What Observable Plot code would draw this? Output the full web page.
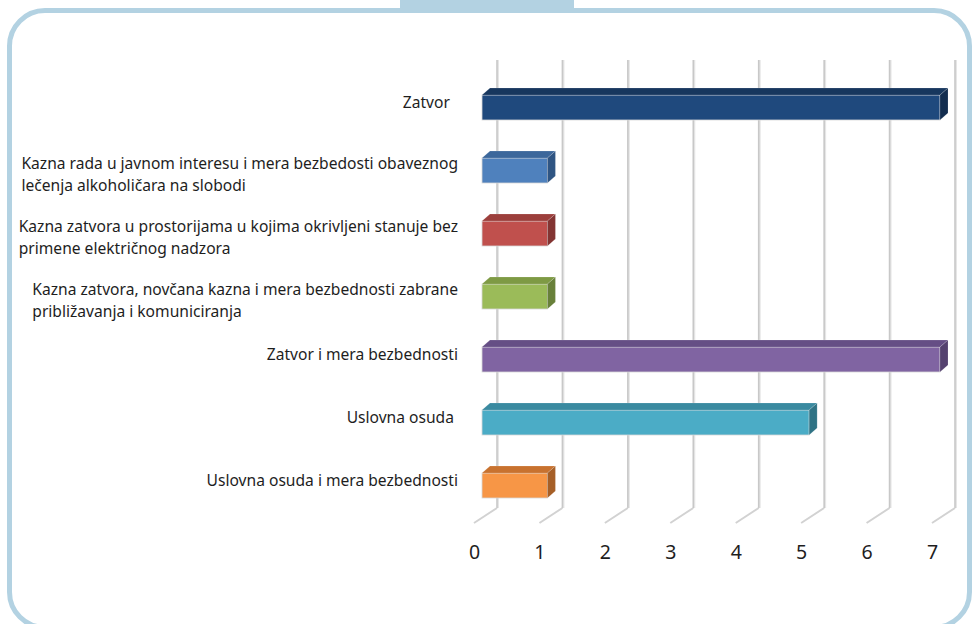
<!DOCTYPE html>
<html><head><meta charset="utf-8">
<script src="https://cdn.jsdelivr.net/npm/d3@7"></script>
<script src="https://cdn.jsdelivr.net/npm/@observablehq/plot@0.6"></script>
<style>
html,body{margin:0;padding:0;background:#fff;width:975px;height:624px;overflow:hidden;font-family:"Noto Sans", sans-serif}
#frame{position:absolute;left:7px;top:8px;width:955px;height:612px;border:5.5px solid #b3d2e2;border-radius:38px;pointer-events:none;z-index:2}
#tab{position:absolute;left:400px;top:0;width:174px;height:9px;background:#b3d2e2;z-index:2}
#chart{position:absolute;left:0;top:0}
</style></head><body>
<div id="tab"></div><div id="frame"></div><div id="chart"></div>
<script>
const labels = [
  "Zatvor  ",
  "Kazna rada u javnom interesu i mera bezbedosti obaveznog\nlečenja alkoholičara na slobodi",
  "Kazna zatvora u prostorijama u kojima okrivljeni stanuje bez\nprimene električnog nadzora",
  "Kazna zatvora, novčana kazna i mera bezbednosti zabrane\npribližavanja i komuniciranja",
  "Zatvor i mera bezbednosti",
  "Uslovna osuda ",
  "Uslovna osuda i mera bezbednosti"
];
const values = [7, 1, 1, 1, 7, 5, 1];
const frontColors = ["#1f497d", "#4f81bd", "#c0504d", "#9bbb59", "#8064a2", "#4bacc6", "#f79646"];
const topColors   = ["#17375e", "#3c679b", "#9c3f3c", "#7e9a44", "#654e85", "#3a8aa0", "#c8722f"];
const sideColors  = ["#132d4f", "#2f5583", "#833432", "#68803a", "#55426f", "#2f7385", "#a65f27"];
const ticks = [0, 1, 2, 3, 4, 5, 6, 7];

const data = labels.map((label, i) => ({label, value: values[i], front: frontColors[i], top: topColors[i], side: sideColors[i]}));

const FONT = "Noto Sans";
const DX = 8, DY = 7;       // bar depth offset
const WALL = 15, FLOOR = 8; // back wall / front floor offsets from bar front

function gridMark(index, {x}, values, {height, marginTop, marginBottom}) {
  const g = d3.create("svg:g").attr("fill", "none");
  const yTop = marginTop + 3, yBot = height - marginBottom - 28;
  for (const t of ticks) {
    const bx = x(t) + WALL;
    g.append("line").attr("x1", bx + 1).attr("x2", bx + 1).attr("y1", yTop).attr("y2", yBot)
      .attr("stroke", "#e6e6e6").attr("stroke-width", 2);
    g.append("line").attr("x1", bx).attr("x2", bx).attr("y1", yTop).attr("y2", yBot)
      .attr("stroke", "#c8c8c8").attr("stroke-width", 1.6);
    g.append("line").attr("x1", bx).attr("y1", yBot).attr("x2", x(t) - FLOOR).attr("y2", yBot + 15)
      .attr("stroke", "#d2d2d2").attr("stroke-width", 2);
  }
  return g.node();
}

function facesMark(index, {x, y}) {
  const g = d3.create("svg:g");
  const bw = y.bandwidth();
  for (const d of data) {
    const x0 = x(0), x1 = x(d.value), yt = y(d.label), yb = yt + bw;
    g.append("polygon")
      .attr("points", [[x0, yt], [x1, yt], [x1 + DX, yt - DY], [x0 + DX, yt - DY]].join(" "))
      .attr("fill", d.top).attr("stroke", "#ffffff").attr("stroke-opacity", 0.25).attr("stroke-width", 0.6);
    g.append("polygon")
      .attr("points", [[x1, yt], [x1 + DX, yt - DY], [x1 + DX, yb - DY], [x1, yb]].join(" "))
      .attr("fill", d.side).attr("stroke", "#ffffff").attr("stroke-opacity", 0.25).attr("stroke-width", 0.6);
  }
  return g.node();
}

const FS = 15.6, LH = 22;
function labelMark(index, {x, y}) {
  // measure with a temporary SVG text in the document
  const tmp = d3.select(document.body).append("svg").attr("width", 10).attr("height", 10)
    .style("position", "absolute").style("left", "-2000px").style("top", "0");
  const tt = tmp.append("text").attr("font-family", FONT).attr("font-size", FS).style("white-space", "pre");
  const measure = s => { tt.text(s); return tt.node().getComputedTextLength(); };
  const g = d3.create("svg:g").attr("font-family", FONT).attr("font-size", FS).attr("fill", "#1e1e1e")
    .attr("text-anchor", "start").style("white-space", "pre");
  const right = x(0) - 24;
  for (const d of data) {
    const lines = d.label.split("\n");
    const w = d3.max(lines, measure);
    const cy = y(d.label) + y.bandwidth() / 2 + (lines.length > 1 ? 4 : -5);
    const t = g.append("text");
    lines.forEach((s, j) => {
      t.append("tspan").attr("x", right - w).attr("y", cy + (j - (lines.length - 1) / 2) * LH)
        .attr("dy", "0.35em").text(s);
    });
  }
  tmp.remove();
  return g.node();
}

const plot = Plot.plot({
  width: 975,
  height: 624,
  marginLeft: 482,
  marginRight: 35,
  marginTop: 57,
  marginBottom: 88,
  style: {background: "transparent", fontFamily: FONT},
  x: {domain: [0, 7], axis: null},
  y: {domain: labels, padding: 0.6, axis: null},
  marks: [
    gridMark,
    Plot.barX(data, {x: "value", y: "label", fill: "front", stroke: "#d8d8d8", strokeWidth: 0.8}),
    facesMark,
    labelMark,
    Plot.text(ticks, {x: d => d, frameAnchor: "bottom", dx: -8, dy: 22, fontSize: 19.5, fill: "#1e1e1e", text: d => String(d)})
  ]
});
document.getElementById("chart").appendChild(plot);
</script>
</body></html>
